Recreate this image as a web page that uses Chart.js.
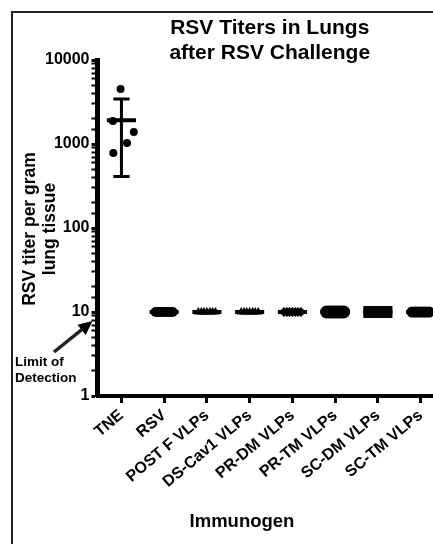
<!DOCTYPE html>
<html>
<head>
<meta charset="utf-8">
<script src="https://cdn.jsdelivr.net/npm/chart.js@4/dist/chart.umd.min.js"></script>
<style>
  html, body { margin: 0; padding: 0; background: #fff; overflow: hidden; }
  #wrap { width: 460px; height: 544px; }
</style>
</head>
<body>
<div id="wrap"><canvas id="titerChart" width="460" height="544"></canvas></div>
<script>
// groups on the x axis
const groups = ["TNE", "RSV", "POST F VLPs", "DS-Cav1 VLPs", "PR-DM VLPs", "PR-TM VLPs", "SC-DM VLPs", "SC-TM VLPs"];

// RSV titer per gram lung tissue, one value per mouse
const tneTiters   = [4520, 1880, 1390, 1030, 782];
const rsvTiters   = [10, 10, 10, 10, 10, 10, 10];
const postFTiters = [10, 10, 10, 10, 10, 10, 10];
const dsCavTiters = [10, 10, 10, 10, 10, 10, 10];
const prDmTiters  = [10, 10, 10, 10, 10, 10, 10];
const prTmTiters  = [10, 10, 10, 10, 10, 10, 10];
const scDmTiters  = [10, 10, 10, 10, 10, 10, 10];
const scTmTiters  = [10, 10, 10, 10, 10, 10, 10];

// horizontal scatter of the dots inside each column (category units)
const tneSpread = [-0.02, -0.2, 0.29, 0.13, -0.19];
const lodSpread = [-0.2, -0.13, -0.07, 0, 0.07, 0.13, 0.2];

const yTicks = [1, 10, 100, 1000, 10000];
const titleLines = ["RSV Titers in Lungs", "after RSV Challenge"];
const yTitleLines = ["RSV titer per gram", "lung tissue"];

const groupTiters = [tneTiters, rsvTiters, postFTiters, dsCavTiters, prDmTiters, prTmTiters, scDmTiters, scTmTiters];
const groupSpread = [tneSpread, lodSpread, lodSpread, lodSpread, lodSpread, lodSpread, lodSpread, lodSpread];
const markerStyle = ["circle", "circle", "triangle", "triangle", "rectRot", "circle", "rect", "circle"];
const markerSize = [4, 5, 5, 5, 5, 6.5, 8.5, 5.5];

const FONT = '"Liberation Sans", Arial, sans-serif';
Chart.defaults.font.family = FONT;
Chart.defaults.color = "#000";

function mean(a) { return a.reduce((s, v) => s + v, 0) / a.length; }
function sd(a) {
    const m = mean(a);
    return Math.sqrt(a.reduce((s, v) => s + (v - m) * (v - m), 0) / (a.length - 1));
}
function segment(p1, p2, w) {
    return {
        type: "scatter", showLine: true, data: [p1, p2],
        borderColor: "#000", borderWidth: w, pointRadius: 0, borderCapStyle: "butt"
    };
}

const datasets = [];
groups.forEach((g, i) => {
    const vals = groupTiters[i];
    datasets.push({
        type: "scatter",
        label: g,
        data: vals.map((v, k) => ({ x: i + groupSpread[i][k], y: v })),
        pointStyle: markerStyle[i],
        pointRadius: markerSize[i],
        backgroundColor: "#000",
        borderColor: "#000",
        borderWidth: 0
    });
    const m = mean(vals), s = sd(vals);
    datasets.push(segment({ x: i - 0.34, y: m }, { x: i + 0.34, y: m }, 4));
    if (s > 0) {
        datasets.push(segment({ x: i, y: m - s }, { x: i, y: m + s }, 3));
        datasets.push(segment({ x: i - 0.19, y: m + s }, { x: i + 0.19, y: m + s }, 3));
        datasets.push(segment({ x: i - 0.19, y: m - s }, { x: i + 0.19, y: m - s }, 3));
    }
});

function isDecade(v) { return yTicks.includes(v); }

// titles, frame and the limit-of-detection note
const extras = {
    id: "extras",
    afterDraw(chart) {
        const { ctx, chartArea, scales } = chart;
        ctx.save();
        ctx.strokeStyle = "#222";
        ctx.lineWidth = 2;
        ctx.beginPath();
        ctx.moveTo(12, chart.height);
        ctx.lineTo(12, 12);
        ctx.lineTo(chart.width, 12);
        ctx.stroke();

        ctx.fillStyle = "#000";
        ctx.textAlign = "center";
        ctx.textBaseline = "middle";
        const cx = (chartArea.left + chartArea.right) / 2;
        ctx.font = "bold 21px " + FONT;
        ctx.fillText(titleLines[0], cx, 28);
        ctx.fillText(titleLines[1], cx, 53);

        ctx.save();
        ctx.translate(30, 229);
        ctx.rotate(-Math.PI / 2);
        ctx.font = "bold 17.5px " + FONT;
        ctx.fillText(yTitleLines[0], 0, 0);
        ctx.fillText(yTitleLines[1], 0, 20);
        ctx.restore();

        ctx.font = "bold 18.5px " + FONT;
        ctx.fillText("Immunogen", 242, 522);

        ctx.textAlign = "left";
        ctx.font = "bold 13.5px " + FONT;
        ctx.fillText("Limit of", 15, 362);
        ctx.fillText("Detection", 15, 378);

        // arrow to the detection limit on the axis
        const tipX = chartArea.left - 5, tipY = scales.y.getPixelForValue(7.8);
        const tailX = 54, tailY = 352;
        const ang = Math.atan2(tipY - tailY, tipX - tailX);
        ctx.lineWidth = 3.5;
        ctx.beginPath();
        ctx.moveTo(tailX, tailY);
        ctx.lineTo(tipX - 9 * Math.cos(ang), tipY - 9 * Math.sin(ang));
        ctx.stroke();
        ctx.beginPath();
        ctx.moveTo(tipX, tipY);
        ctx.lineTo(tipX - 14 * Math.cos(ang) + 6.5 * Math.sin(ang), tipY - 14 * Math.sin(ang) - 6.5 * Math.cos(ang));
        ctx.lineTo(tipX - 14 * Math.cos(ang) - 6.5 * Math.sin(ang), tipY - 14 * Math.sin(ang) + 6.5 * Math.cos(ang));
        ctx.closePath();
        ctx.fill();
        ctx.restore();
    }
};

new Chart(document.getElementById("titerChart"), {
    type: "scatter",
    data: { datasets: datasets },
    options: {
        responsive: false,
        animation: false,
        layout: { padding: { top: 60, right: 18, left: 0, bottom: 0 } },
        plugins: { legend: { display: false }, tooltip: { enabled: false } },
        scales: {
            x: {
                type: "linear",
                min: -0.56,
                max: 7.5,
                afterFit: s => { s.height = 148; },
                afterBuildTicks: s => { s.ticks = groups.map((g, i) => ({ value: i })); },
                grid: { drawOnChartArea: false, tickLength: 7, tickWidth: 3, tickColor: "#000" },
                border: { display: true, width: 4, color: "#000" },
                ticks: {
                    autoSkip: false,
                    minRotation: 40,
                    maxRotation: 40,
                    padding: 3,
                    font: { size: 16, weight: "bold" },
                    callback: v => groups[v]
                }
            },
            y: {
                type: "logarithmic",
                min: 1,
                max: 10000,
                afterFit: s => { s.width = 97.5; },
                grid: {
                    drawOnChartArea: false,
                    tickLength: 6,
                    tickColor: "#000",
                    tickWidth: c => (c.tick && isDecade(c.tick.value) ? 3 : 2)
                },
                border: { display: true, width: 5, color: "#000" },
                ticks: {
                    autoSkip: false,
                    padding: 2,
                    font: { size: 16, weight: "bold" },
                    callback: v => (isDecade(v) ? String(v) : "")
                }
            }
        }
    },
    plugins: [extras]
});
</script>
</body>
</html>
